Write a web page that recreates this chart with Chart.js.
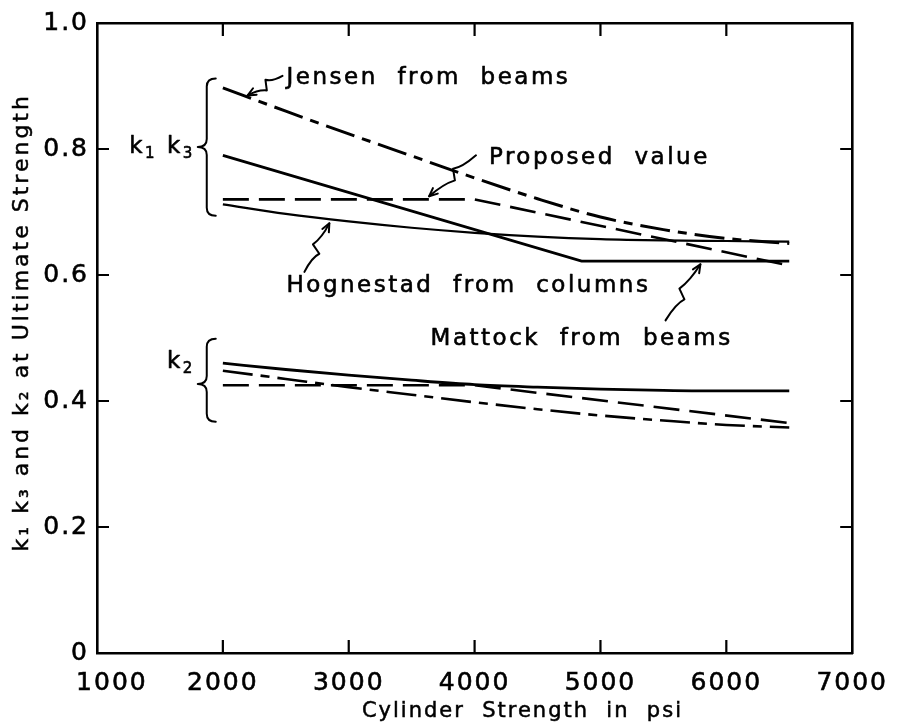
<!DOCTYPE html>
<html>
<head>
<meta charset="utf-8">
<script src="https://cdn.jsdelivr.net/npm/chart.js@4/dist/chart.umd.min.js"></script>
<style>
  html, body { margin: 0; padding: 0; background: #fff; }
  #wrap { width: 899px; height: 726px; }
</style>
</head>
<body>
<div id="wrap"><canvas id="c" width="899" height="726"></canvas></div>
<script>
// Cylinder strength (psi) at which the curved relations are sampled
const psi = [2000, 2500, 3000, 3500, 4000, 4500, 5000, 5500, 6000, 6500];

// k1 k3 relations
const jensenK1K3    = [0.897, 0.860, 0.824, 0.789, 0.754, 0.721, 0.692, 0.672, 0.658, 0.650];
const hognestadK1K3 = [0.712, 0.697, 0.685, 0.675, 0.667, 0.661, 0.657, 0.655, 0.654, 0.653];
const mattockPsi    = [2000, 4850, 6500];
const mattockK1K3   = [0.790, 0.622, 0.622];
const proposedPsi   = [2000, 4000, 6500];
const proposedK1K3  = [0.720, 0.720, 0.615];

// k2 relations
const hognestadK2 = [0.460, 0.450, 0.441, 0.433, 0.426, 0.422, 0.419, 0.417, 0.416, 0.416];
const jensenK2    = [0.448, 0.435, 0.422, 0.410, 0.398, 0.387, 0.377, 0.369, 0.362, 0.358];
const proposedK2  = [0.425, 0.425, 0.365];

// Axis ticks
const xTickValues = [1000, 2000, 3000, 4000, 5000, 6000, 7000];
const yTickValues = [0, 0.2, 0.4, 0.6, 0.8, 1.0];

const xTitle = 'Cylinder  Strength  in  psi';
const yTitle = 'k\u2081 k\u2083 and k\u2082 at Ultimate Strength';

const FONT = 'DejaVu Sans';
const INK = '#000';

function pts(xs, ys) { return xs.map((x, i) => ({ x: x, y: ys[i] })); }

const solid = [];
const dashDot = [30, 8, 9, 8];
const dashed = [26, 10];

function series(label, xs, ys, dash, width, curved) {
  return {
    label: label,
    data: pts(xs, ys),
    borderColor: INK,
    borderWidth: width,
    borderDash: dash,
    pointRadius: 0,
    fill: false,
    cubicInterpolationMode: curved ? 'monotone' : 'default',
    tension: 0
  };
}

// Callout texts, leader arrows and braces, positioned in data units
const callouts = [
  { text: 'Jensen  from  beams', x: 2506, y: 0.912, align: 'left',
    from: [2474, 0.916], to: [2197, 0.885] },
  { text: 'Proposed  value', x: 4114, y: 0.785, align: 'left',
    from: [4011, 0.790], to: [3639, 0.725] },
  { text: 'Hognestad  from  columns', x: 2506, y: 0.582, align: 'left',
    from: [2648, 0.605], to: [2846, 0.682] },
  { text: 'Mattock  from  beams', x: 6050, y: 0.498, align: 'right',
    from: [5517, 0.528], to: [5794, 0.617] }
];
const braces = [
  { x: 1872, top: 0.912, bottom: 0.694, mid: 0.803, labelAt: 0.803,
    label: [['k', 0], ['1', 1], [' ', 0], ['k', 0], ['3', 1]] },
  { x: 1872, top: 0.499, bottom: 0.367, mid: 0.427, labelAt: 0.462,
    label: [['k', 0], ['2', 1]] }
];

function fillStroked(ctx, text, x, y) {
  ctx.fillText(text, x, y);
  ctx.strokeText(text, x, y);
}

function drawRich(ctx, parts, xRight, y) {
  const big = '23px "' + FONT + '"', small = '15px "' + FONT + '"';
  let w = 0;
  parts.forEach(p => { ctx.font = p[1] ? small : big; w += ctx.measureText(p[0]).width; });
  let x = xRight - w;
  ctx.textAlign = 'left';
  ctx.textBaseline = 'middle';
  parts.forEach(p => {
    ctx.font = p[1] ? small : big;
    fillStroked(ctx, p[0], x, p[1] ? y + 7 : y);
    x += ctx.measureText(p[0]).width;
  });
}

function drawLeader(ctx, x0, y0, x1, y1) {
  const dx = x1 - x0, dy = y1 - y0, len = Math.hypot(dx, dy);
  const ux = dx / len, uy = dy / len, nx = -uy, ny = ux;
  const a = [x0 + dx * 0.42 + nx * 5, y0 + dy * 0.42 + ny * 5];
  const b = [x0 + dx * 0.52 - nx * 5, y0 + dy * 0.52 - ny * 5];
  ctx.beginPath();
  ctx.moveTo(x0, y0);
  ctx.quadraticCurveTo(x0 + dx * 0.3, y0 + dy * 0.3, a[0], a[1]);
  ctx.lineTo(b[0], b[1]);
  ctx.quadraticCurveTo(x0 + dx * 0.7, y0 + dy * 0.7, x1, y1);
  ctx.stroke();
  // arrow head
  const ah = 9, ang = 0.42;
  const bx = -ux, by = -uy;
  ctx.beginPath();
  ctx.moveTo(x1 + (bx * Math.cos(ang) - by * Math.sin(ang)) * ah, y1 + (bx * Math.sin(ang) + by * Math.cos(ang)) * ah);
  ctx.lineTo(x1, y1);
  ctx.lineTo(x1 + (bx * Math.cos(-ang) - by * Math.sin(-ang)) * ah, y1 + (bx * Math.sin(-ang) + by * Math.cos(-ang)) * ah);
  ctx.stroke();
}

function drawBrace(ctx, x, yt, yb, ym, w) {
  const r = 8;
  ctx.beginPath();
  ctx.moveTo(x + w, yt);
  ctx.quadraticCurveTo(x, yt, x, yt + r);
  ctx.lineTo(x, ym - r);
  ctx.quadraticCurveTo(x, ym, x - w, ym);
  ctx.quadraticCurveTo(x, ym, x, ym + r);
  ctx.lineTo(x, yb - r);
  ctx.quadraticCurveTo(x, yb, x + w, yb);
  ctx.stroke();
}

const annotationPlugin = {
  id: 'annotations',
  afterDatasetsDraw(chart) {
    const ctx = chart.ctx, xs = chart.scales.x, ys = chart.scales.y;
    ctx.save();
    ctx.strokeStyle = INK;
    ctx.fillStyle = INK;
    ctx.lineCap = 'round';
    ctx.lineJoin = 'round';
    ctx.letterSpacing = '2.5px';
    ctx.font = '23px "' + FONT + '"';
    ctx.textBaseline = 'middle';
    callouts.forEach(c => {
      ctx.textAlign = c.align;
      ctx.lineWidth = 0.6;
      fillStroked(ctx, c.text, xs.getPixelForValue(c.x), ys.getPixelForValue(c.y));
      ctx.lineWidth = 2;
      drawLeader(ctx, xs.getPixelForValue(c.from[0]), ys.getPixelForValue(c.from[1]),
                      xs.getPixelForValue(c.to[0]), ys.getPixelForValue(c.to[1]));
    });
    braces.forEach(b => {
      const x = xs.getPixelForValue(b.x);
      ctx.lineWidth = 2;
      drawBrace(ctx, x, ys.getPixelForValue(b.top), ys.getPixelForValue(b.bottom), ys.getPixelForValue(b.mid), 9);
      ctx.lineWidth = 0.6;
      drawRich(ctx, b.label, x - 12, ys.getPixelForValue(b.labelAt));
    });
    ctx.restore();
  }
};

// Axis titles, placed against the axes they describe
const axisTitlePlugin = {
  id: 'axisTitles',
  afterDraw(chart) {
    const ctx = chart.ctx, a = chart.chartArea, xs = chart.scales.x, ys = chart.scales.y;
    ctx.save();
    ctx.fillStyle = INK;
    ctx.strokeStyle = INK;
    ctx.lineWidth = 0.5;
    ctx.letterSpacing = '2px';
    ctx.font = '21px "' + FONT + '"';
    ctx.textAlign = 'center';
    ctx.textBaseline = 'middle';
    fillStroked(ctx, xTitle, xs.getPixelForValue(4380), a.bottom + 59);
    ctx.font = '22px "' + FONT + '"';
    ctx.letterSpacing = '3px';
    ctx.translate(a.left - 75, ys.getPixelForValue(0.525));
    ctx.rotate(-Math.PI / 2);
    fillStroked(ctx, yTitle, 0, 0);
    ctx.restore();
  }
};

// Tick marks pointing into the plot on all four sides
const innerTicksPlugin = {
  id: 'innerTicks',
  afterDraw(chart) {
    const ctx = chart.ctx, a = chart.chartArea, xs = chart.scales.x, ys = chart.scales.y;
    ctx.save();
    ctx.strokeStyle = INK;
    ctx.lineWidth = 2.2;
    xs.ticks.forEach(t => {
      if (t.value <= xs.min || t.value >= xs.max) return;
      const px = xs.getPixelForValue(t.value);
      ctx.beginPath();
      ctx.moveTo(px, a.bottom); ctx.lineTo(px, a.bottom - 13);
      ctx.moveTo(px, a.top); ctx.lineTo(px, a.top + 13);
      ctx.stroke();
    });
    ys.ticks.forEach(t => {
      if (t.value <= ys.min || t.value >= ys.max) return;
      const py = ys.getPixelForValue(t.value);
      ctx.beginPath();
      ctx.moveTo(a.left, py); ctx.lineTo(a.left + 12, py);
      ctx.moveTo(a.right, py); ctx.lineTo(a.right - 12, py);
      ctx.stroke();
    });
    ctx.restore();
  }
};

// Letter spacing for the tick numerals
const spacingPlugin = {
  id: 'spacing',
  beforeDraw(chart) { chart.ctx.letterSpacing = '2px'; },
  afterDraw(chart) { chart.ctx.letterSpacing = '0px'; }
};

const frameBorder = { display: true, color: INK, width: 2.6 };
const tickFont = { family: FONT, size: 25 };

new Chart(document.getElementById('c'), {
  type: 'line',
  data: {
    datasets: [
      series('Jensen from beams (k1k3)', psi, jensenK1K3, dashDot, 3, true),
      series('Hognestad from columns (k1k3)', psi, hognestadK1K3, solid, 2.2, true),
      series('Mattock from beams (k1k3)', mattockPsi, mattockK1K3, solid, 2.8, false),
      series('Proposed value (k1k3)', proposedPsi, proposedK1K3, dashed, 2.6, false),
      series('Hognestad (k2)', psi, hognestadK2, solid, 2.8, true),
      series('Jensen (k2)', psi, jensenK2, dashDot, 2.6, true),
      series('Proposed (k2)', proposedPsi, proposedK2, dashed, 2.6, false)
    ]
  },
  options: {
    responsive: false,
    animation: false,
    devicePixelRatio: 1,
    layout: { padding: 0 },
    plugins: { legend: { display: false }, tooltip: { enabled: false } },
    scales: {
      x: {
        type: 'linear', position: 'bottom', min: 1000, max: 7000,
        afterBuildTicks(s) { s.ticks = xTickValues.map(v => ({ value: v })); },
        afterFit(s) { s.height = 73; },
        grid: { display: false, drawTicks: false },
        border: frameBorder,
        ticks: { color: INK, padding: 15, maxRotation: 0, font: tickFont,
                 textStrokeColor: INK, textStrokeWidth: 0.6,
                 callback: v => (v === 1000 ? '\u00a0\u00a0\u00a01000' : String(v)) }
      },
      y: {
        type: 'linear', position: 'left', min: 0, max: 1,
        afterBuildTicks(s) { s.ticks = yTickValues.map(v => ({ value: v })); },
        afterFit(s) { s.width = 97; },
        grid: { display: false, drawTicks: false },
        border: frameBorder,
        ticks: { color: INK, padding: 8, font: tickFont,
                 textStrokeColor: INK, textStrokeWidth: 0.6,
                 callback: v => (v === 0 ? '0' : v.toFixed(1)) }
      },
      x2: {
        type: 'linear', position: 'top', min: 1000, max: 7000,
        afterFit(s) { s.height = 19; },
        grid: { display: false, drawTicks: false },
        border: frameBorder,
        ticks: { display: false }
      },
      y2: {
        type: 'linear', position: 'right', min: 0, max: 1,
        afterFit(s) { s.width = 45; },
        grid: { display: false, drawTicks: false },
        border: frameBorder,
        ticks: { display: false }
      }
    }
  },
  plugins: [spacingPlugin, annotationPlugin, innerTicksPlugin, axisTitlePlugin]
});
</script>
</body>
</html>
